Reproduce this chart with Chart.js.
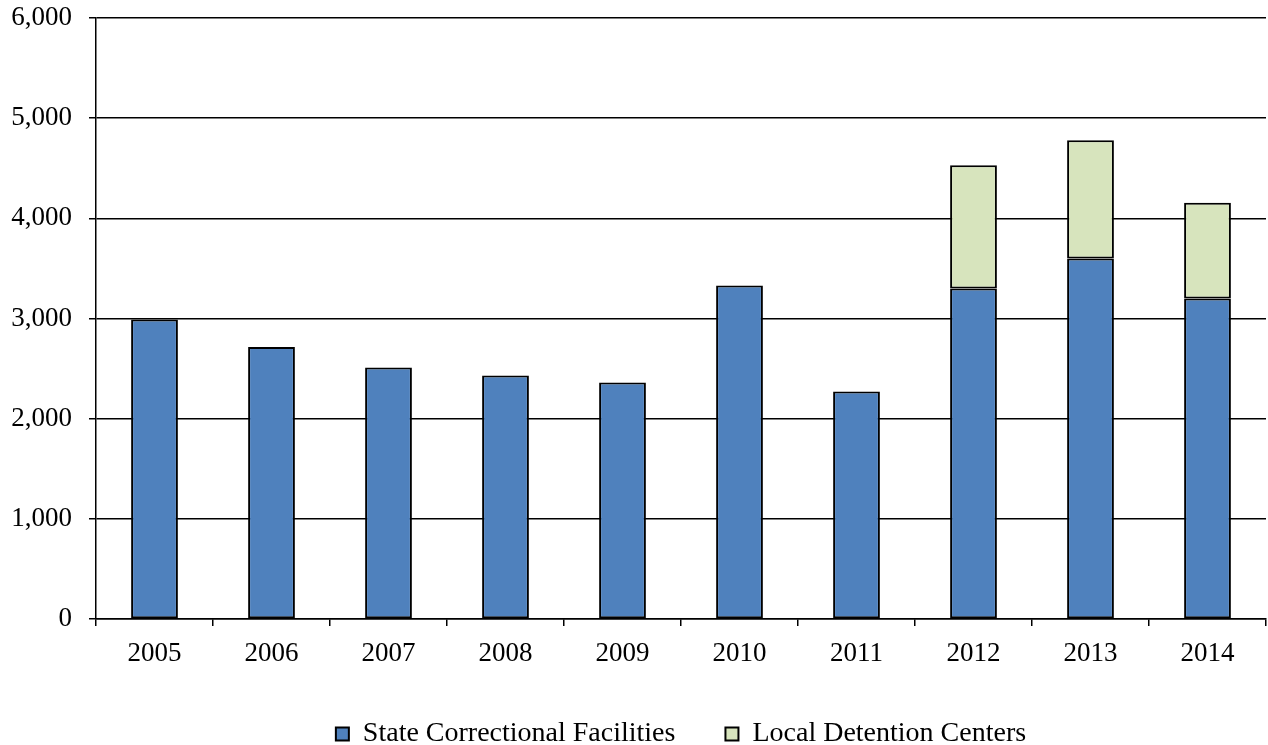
<!DOCTYPE html>
<html>
<head>
<meta charset="utf-8">
<script src="https://cdn.jsdelivr.net/npm/chart.js@4.4.0/dist/chart.umd.min.js"></script>
<style>
    html, body { margin: 0; padding: 0; background: #fff; }
    #wrap { width: 1268px; height: 745px; }
</style>
</head>
<body>
<div id="wrap"><canvas id="inmateChart" width="1268" height="745"></canvas></div>
<script>
const years = ['2005', '2006', '2007', '2008', '2009', '2010', '2011', '2012', '2013', '2014'];
const stateFacilities = [2990, 2715, 2510, 2430, 2360, 3330, 2270, 3300, 3600, 3200];
const localDetention = [null, null, null, null, null, null, null, 1230, 1180, 955];
const yTicks = [0, 1000, 2000, 3000, 4000, 5000, 6000];

const serif = "'Liberation Serif', 'Times New Roman', serif";

document.addEventListener('DOMContentLoaded', function() {
    const ctx = document.getElementById('inmateChart').getContext('2d');

    new Chart(ctx, {
        type: 'bar',
        data: {
            labels: years,
            datasets: [{
                label: 'State Correctional Facilities',
                data: stateFacilities,
                backgroundColor: '#4F81BD',
                borderColor: '#000',
                borderWidth: 2,
                borderSkipped: false,
                barPercentage: 0.4,
                categoryPercentage: 1.0
            }, {
                label: 'Local Detention Centers',
                data: localDetention,
                backgroundColor: '#D7E4BD',
                borderColor: '#000',
                borderWidth: 2,
                borderSkipped: false,
                barPercentage: 0.4,
                categoryPercentage: 1.0
            }]
        },
        options: {
            responsive: false,
            animation: false,
            layout: {
                padding: { left: 0, right: 2, top: 18, bottom: -13 }
            },
            plugins: {
                legend: {
                    position: 'bottom',
                    fullSize: false,
                    labels: {
                        font: { family: serif, size: 28, lineHeight: 1 },
                        color: '#000',
                        boxWidth: 13,
                        boxHeight: 13,
                        padding: 50
                    }
                },
                tooltip: { enabled: false }
            },
            scales: {
                x: {
                    stacked: true,
                    grid: {
                        offset: true,
                        drawOnChartArea: false,
                        drawTicks: true,
                        tickLength: 7,
                        tickColor: '#000',
                        lineWidth: 1.5
                    },
                    border: { color: '#000', width: 1.5 },
                    ticks: {
                        font: { family: serif, size: 27, lineHeight: 1 },
                        color: '#000',
                        padding: 14
                    },
                    afterFit: function(scale) {
                        scale.height = 51;
                        scale.paddingLeft = 0;
                        scale.paddingRight = 0;
                    }
                },
                y: {
                    stacked: true,
                    min: 0,
                    max: 6000,
                    afterBuildTicks: function(scale) {
                        scale.ticks = yTicks.map(v => ({ value: v }));
                    },
                    grid: {
                        color: '#000',
                        lineWidth: 1.5,
                        tickLength: 7,
                        tickColor: '#000'
                    },
                    border: { color: '#000', width: 1.5 },
                    ticks: {
                        font: { family: serif, size: 27, lineHeight: 1 },
                        color: '#000',
                        padding: 17,
                        callback: function(value) {
                            return new Intl.NumberFormat('en-US').format(value);
                        }
                    },
                    afterFit: function(scale) {
                        scale.width = 96;
                        scale.paddingTop = 0;
                        scale.paddingBottom = 0;
                    }
                }
            }
        }
    });
});
</script>
</body>
</html>
